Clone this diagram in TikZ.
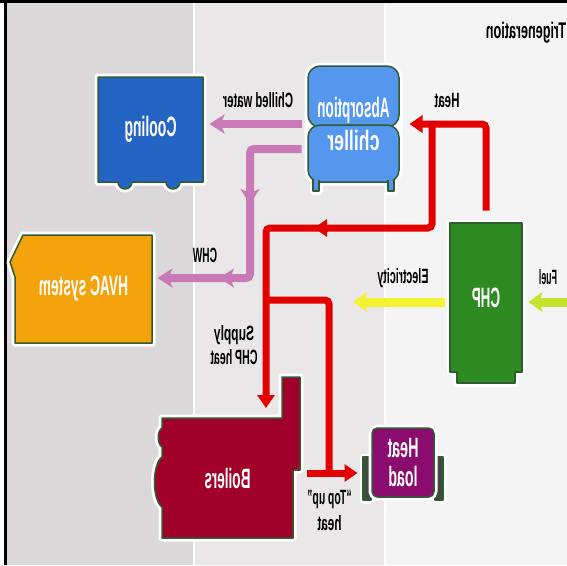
\documentclass[tikz,border=0pt]{standalone}
\usepackage{fontspec}
\setmainfont{Liberation Sans}
\usepackage{graphicx}
\usetikzlibrary{arrows.meta}

\newlength{\pxu}
\setlength{\pxu}{0.75pt}
% mirrored, narrowed text
\newcommand{\mirtext}[2]{\reflectbox{\resizebox{#1\pxu}{\height}{#2}}}

\definecolor{bandL}{HTML}{DBD8D9}
\definecolor{bandM}{HTML}{E9E7E8}
\definecolor{bandR}{HTML}{F4F4F4}
\definecolor{boxline}{HTML}{2F5D2F}
\definecolor{coolblue}{HTML}{2464C4}
\definecolor{chillblue}{HTML}{5597EE}
\definecolor{hvacorange}{HTML}{F5A30D}
\definecolor{chpgreen}{HTML}{2E8B22}
\definecolor{boilred}{HTML}{A1002A}
\definecolor{loadpurple}{HTML}{8B0B6E}
\definecolor{handlegray}{HTML}{3E4A3E}
\definecolor{heatred}{HTML}{E30000}
\definecolor{chwpink}{HTML}{C97AB6}
\definecolor{elecyellow}{HTML}{F3F332}
\definecolor{fuelgreen}{HTML}{C6E22C}

\tikzset{every picture/.style={line width=0.75pt},
  halo/.style={draw=white,line width=7\pxu,line join=round},
  unit/.style={draw=boxline,line width=1.5\pxu,line join=round},
  unit halo/.style={unit,preaction={halo}},
  unit lbl/.style={inner sep=0pt,text=white,align=center,font=\bfseries\fontsize{21}{24}\selectfont},
  lbl/.style={inner sep=0pt,text=black,align=center,font=\bfseries\fontsize{15.5}{18}\selectfont},
  heat pipe/.style={draw=heatred,line width=7\pxu,rounded corners=3pt},
  heat arrow/.style={-{Triangle[length=9.75pt,width=12.75pt]}},
  chw pipe/.style={draw=chwpink,line width=8\pxu,rounded corners=3pt},
  chw arrow/.style={-{Stealth[length=11.25pt,width=14.25pt,inset=3pt]}},
  elec pipe/.style={line width=9\pxu,-{Stealth[length=10.5pt,width=15pt,inset=2.25pt]}}
}

\begin{document}
\begin{tikzpicture}[x=0.75pt,y=0.75pt,yscale=-1]
\useasboundingbox (0,0) rectangle (567,565);

%Bands
\fill[white] (0,0) rectangle (567,565);
\fill[bandL] (5,0) rectangle (194,565);
\fill[bandM] (194,0) rectangle (385,565);
\fill[bandR] (385,0) rectangle (567,565);
\draw[white,line width=1.5\pxu] (194,0) -- (194,565);
\draw[white,line width=1.5\pxu] (385,0) -- (385,565);
\fill[black] (4,0) rectangle (7,565);
\fill[black] (0,0) rectangle (567,2.5);

% Text Node
\node[lbl,font=\bfseries\fontsize{17}{19}\selectfont] (title) at (526,33) {\mirtext{80}{Trigeneration}};

%Cooling
\draw[unit halo,fill=coolblue] (98,77) -- (203,77) -- (203,182) -- (180,182) arc[start angle=0,end angle=180,radius=7] -- (132,182) arc[start angle=0,end angle=180,radius=7] -- (98,182) -- cycle;
\node[unit lbl,minimum width=105\pxu,minimum height=105\pxu] (cooling) at (150.5,129.5) {\mirtext{52}{Cooling}};

%Absorption chiller
\draw[halo,rounded corners=9pt] (308,66) rectangle (399,182);
\draw[halo] (313,180) rectangle (319,191);
\draw[halo] (388,180) rectangle (394,191);
\draw[unit,fill=chillblue,rounded corners=9pt] (308,66) rectangle (399,127);
\draw[unit,fill=chillblue,rounded corners=9pt] (308,125) rectangle (399,182);
\draw[unit,fill=chillblue] (313,180) -- (313,191) -- (319,191) -- (319,180);
\draw[unit,fill=chillblue] (388,180) -- (388,191) -- (394,191) -- (394,180);
\node[unit lbl,minimum width=91\pxu,minimum height=116\pxu,font=\bfseries\fontsize{21}{24.75}\selectfont] (chiller) at (353.5,124) {\mirtext{72}{Absorption}\\\mirtext{52}{chiller}};

%HVAC system
\draw[unit halo,fill=hvacorange] (23,235) -- (152,235) -- (152,343) -- (15,343) -- (15,277) -- (10,262) -- cycle;
\node[unit lbl,minimum width=137\pxu,minimum height=108\pxu] (hvac) at (83.5,289) {\mirtext{89}{HVAC system}};

%CHP
\draw[unit halo,fill=chpgreen] (450,223) -- (522,223) -- (522,372) -- (515,372) -- (515,383) -- (457,383) -- (457,372) -- (450,372) -- cycle;
\node[unit lbl,minimum width=72\pxu,minimum height=149\pxu] (chp) at (486,297.5) {\mirtext{28}{CHP}};

%Boilers
\draw[unit halo,fill=boilred] (162,418) -- (282,418) -- (282,377) -- (300,377) -- (300,470) -- (293,470) -- (293,538) -- (162,538) -- (162,507) .. controls (152,500) and (152,464) .. (162,457) -- (162,447) .. controls (157,444) and (157,431) .. (162,428) -- cycle;
\node[unit lbl,minimum width=131\pxu,minimum height=120\pxu] (boilers) at (227.5,478) {\mirtext{46}{Boilers}};

%Heat load
\draw[unit halo,fill=handlegray] (363,457) rectangle (371,500);
\draw[unit halo,fill=handlegray] (435,457) rectangle (443,500);
\draw[unit halo,fill=loadpurple,rounded corners=4pt] (372,428) rectangle (434,497);
\node[unit lbl,minimum width=62\pxu,minimum height=69\pxu,font=\bfseries\fontsize{21}{21.75}\selectfont] (heatload) at (403,462.5) {\mirtext{31}{Heat}\\\mirtext{29}{load}};

%Pipe points
\coordinate (heatsplit) at (432,124);
\coordinate (supplybend) at (266,228);
\coordinate (boilerin) at (266,418);
\coordinate (supplybranch) at (266,300);
\coordinate (topupdrop) at (329,473);
\coordinate (boilerout) at (307,473);
\coordinate (chwbend) at (250,278);
\coordinate (elecout) at (353,302);
\coordinate (fuelin) at (567,302);

%Heat pipes
\draw[heat pipe,heat arrow] ([yshift=-12\pxu]chp.north) |- ([xshift=10\pxu]chiller.east);
\draw[heat pipe,heat arrow,shorten >=10\pxu] (heatsplit) |- (supplybend) -- (boilerin);
\draw[heat pipe] (supplybranch) -| (topupdrop);
\draw[heat pipe,heat arrow,shorten >=14\pxu] (boilerout) -- (heatload.west |- boilerout);
\draw[heat pipe,heat arrow] (328,228) -- (314,228);

%Chilled water pipes
\draw[chw pipe,chw arrow,shorten >=6\pxu] ([xshift=-6\pxu]chiller.west) -- (cooling.east |- chiller.west);
\draw[chw pipe,chw arrow,shorten >=5\pxu] ([xshift=-6\pxu,yshift=25\pxu]chiller.west) -| (chwbend) -- (hvac.east |- chwbend);
\draw[chw pipe,chw arrow] (250,188) -- (250,204);
\draw[chw pipe,chw arrow] (234,278) -- (219,278);

%Electricity and fuel
\draw[elec pipe,draw=elecyellow] ([xshift=-5\pxu,yshift=4.5\pxu]chp.west) -- (elecout);
\draw[elec pipe,draw=fuelgreen,shorten >=6\pxu] (fuelin) -- (chp.east |- fuelin);

% Text Node
\node[lbl] (lblchilled) at (258,100) {\mirtext{70}{Chilled water}};
% Text Node
\node[lbl] (lblheat) at (447,100) {\mirtext{25}{Heat}};
% Text Node
\node[lbl] (lblchw) at (205,255) {\mirtext{24}{CHW}};
% Text Node
\node[lbl] (lblelec) at (403,278) {\mirtext{51}{Electricity}};
% Text Node
\node[lbl] (lblfuel) at (548,277) {\mirtext{18}{Fuel}};
% Text Node
\node[lbl,font=\bfseries\fontsize{15.5}{18}\selectfont] (lblsupply) at (234,345) {\mirtext{40}{Supply}\\\mirtext{47}{CHP heat}};
% Text Node
\node[lbl,font=\bfseries\fontsize{15.5}{19.5}\selectfont] (lbltopup) at (329.5,510) {\mirtext{44}{``Top up''}\\\mirtext{24}{heat}};

\end{tikzpicture}
\end{document}
